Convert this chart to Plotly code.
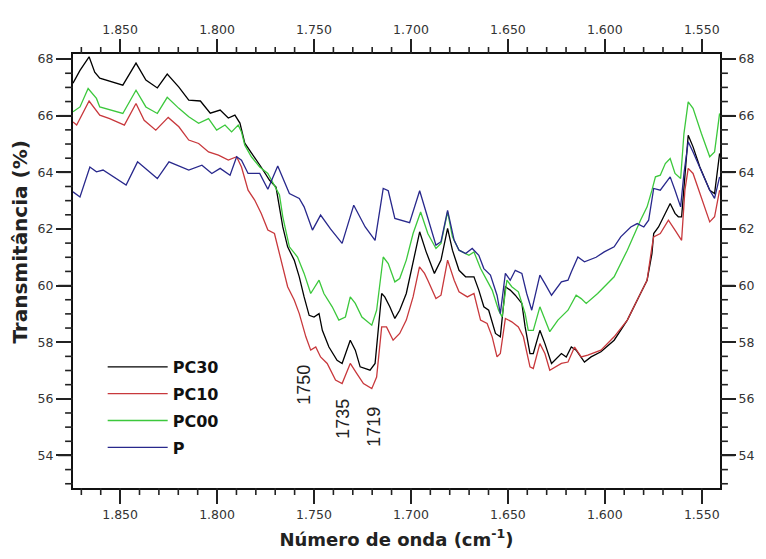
import plotly.graph_objects as go

# ---------------- data ----------------
pc30_x = [1874.3, 1870.7, 1866.0, 1863.1, 1860.5, 1855.4, 1848.6, 1841.8, 1836.7, 1830.8,
          1825.7, 1819.7, 1814.6, 1808.6, 1803.5, 1798.4, 1794.2, 1790.8, 1788.2, 1785.7,
          1780.6, 1777.2, 1772.9, 1769.6, 1766.1, 1763.6, 1760.2, 1757.6, 1755.1, 1752.5,
          1750.0, 1747.4, 1745.7, 1742.3, 1738.1, 1735.5, 1731.3, 1728.7, 1726.2, 1721.1,
          1718.5, 1715.1, 1713.5, 1710.9, 1708.3, 1705.8, 1702.4, 1698.9, 1695.5, 1692.2,
          1687.9, 1684.5, 1681.1, 1678.6, 1675.2, 1671.8, 1667.5, 1665.0, 1662.4, 1659.9,
          1656.4, 1653.9, 1651.3, 1648.8, 1646.2, 1642.8, 1641.1, 1638.6, 1636.9, 1633.5,
          1630.9, 1627.5, 1622.4, 1619.9, 1617.3, 1614.8, 1610.5, 1607.1, 1602.0, 1595.2,
          1588.4, 1581.6, 1578.2, 1575.7, 1574.8, 1572.3, 1568.8, 1566.3, 1563.8, 1562.1,
          1560.4, 1559.2, 1557.0, 1554.5, 1551.0, 1545.9, 1543.4, 1540.8]
pc30_y = [67.15, 67.60, 68.08, 67.54, 67.33, 67.23, 67.08, 67.86, 67.26, 66.98,
          67.47, 67.01, 66.55, 66.52, 66.09, 66.20, 65.92, 66.02, 65.74, 65.03,
          64.54, 64.18, 63.72, 63.48, 62.07, 61.37, 60.90, 60.31, 59.60, 58.95,
          58.89, 59.01, 58.42, 57.83, 57.36, 57.25, 58.07, 57.72, 57.13, 57.01,
          57.25, 59.72, 59.60, 59.25, 58.84, 59.13, 59.72, 60.78, 61.90, 61.20,
          60.43, 60.90, 62.02, 61.25, 60.54, 60.31, 60.31, 59.84, 59.25, 59.13,
          58.31, 58.19, 59.96, 59.84, 59.66, 59.37, 58.54, 57.60, 57.60, 58.42,
          57.95, 57.25, 57.60, 57.48, 57.83, 57.72, 57.30, 57.48, 57.66, 58.07,
          58.78, 59.72, 60.19, 61.13, 61.84, 62.07, 62.55, 62.90, 62.55, 62.43,
          62.43, 63.49, 65.31, 64.90, 64.19, 63.37, 63.25, 64.67]

pc10_x = [1874.3, 1872.4, 1866.0, 1860.5, 1855.4, 1847.8, 1841.8, 1837.6, 1831.6, 1825.2,
          1819.7, 1814.6, 1809.5, 1804.4, 1799.3, 1794.2, 1789.9, 1787.4, 1784.0, 1780.6,
          1777.2, 1773.8, 1770.4, 1767.0, 1763.6, 1760.2, 1757.6, 1754.2, 1751.7, 1749.1,
          1746.6, 1743.2, 1738.9, 1735.5, 1731.3, 1727.9, 1724.5, 1720.2, 1717.7, 1715.1,
          1712.6, 1709.2, 1705.8, 1702.4, 1698.9, 1695.6, 1693.0, 1691.3, 1687.1, 1684.5,
          1681.1, 1677.7, 1675.2, 1670.9, 1667.5, 1664.1, 1660.7, 1658.1, 1655.6, 1653.9,
          1651.3, 1648.0, 1644.6, 1642.0, 1638.6, 1636.9, 1633.5, 1630.9, 1628.4, 1622.4,
          1619.0, 1615.6, 1612.2, 1608.8, 1602.0, 1595.2, 1588.4, 1583.3, 1578.2, 1575.7,
          1574.8, 1571.4, 1567.2, 1563.8, 1560.4, 1558.7, 1557.0, 1554.5, 1550.2, 1545.9,
          1543.4, 1540.8]
pc10_y = [65.78, 65.67, 66.52, 66.02, 65.90, 65.67, 66.43, 65.84, 65.49, 65.94,
          65.61, 65.14, 65.02, 64.72, 64.61, 64.43, 64.55, 64.19, 63.37, 63.02,
          62.55, 61.96, 61.84, 60.90, 59.96, 59.49, 59.01, 58.19, 57.72, 57.83,
          57.48, 57.25, 56.66, 56.54, 57.25, 56.89, 56.54, 56.36, 56.77, 58.54,
          58.54, 58.07, 58.31, 58.78, 59.60, 60.66, 60.43, 60.19, 59.54, 59.66,
          60.90, 60.19, 59.78, 59.60, 59.72, 58.78, 58.66, 58.19, 57.48, 57.60,
          58.84, 58.72, 58.54, 58.19, 57.13, 57.07, 57.95, 57.60, 57.01, 57.25,
          57.30, 57.83, 57.48, 57.54, 57.72, 58.19, 58.78, 59.49, 60.19, 61.37,
          61.72, 61.84, 62.31, 61.96, 61.60, 63.37, 64.14, 63.96, 63.13, 62.25,
          62.43, 63.37]

pc00_x = [1874.3, 1870.7, 1866.5, 1862.2, 1860.5, 1855.4, 1848.6, 1841.8, 1836.7, 1830.8,
          1825.7, 1819.7, 1814.6, 1809.5, 1804.4, 1800.2, 1795.9, 1792.5, 1789.1, 1787.4,
          1785.7, 1782.3, 1778.0, 1773.8, 1770.4, 1767.8, 1766.1, 1762.7, 1758.5, 1755.1,
          1751.7, 1747.4, 1744.9, 1740.6, 1737.2, 1733.8, 1731.3, 1728.7, 1725.3, 1720.2,
          1717.7, 1714.3, 1711.7, 1708.3, 1705.8, 1702.4, 1698.9, 1695.0, 1691.3, 1687.1,
          1684.5, 1681.1, 1678.6, 1675.2, 1670.1, 1667.5, 1664.1, 1660.7, 1658.1, 1654.8,
          1653.0, 1650.5, 1648.0, 1644.6, 1641.1, 1639.5, 1636.9, 1633.5, 1630.9, 1628.4,
          1624.2, 1619.0, 1614.8, 1612.2, 1609.6, 1603.7, 1595.2, 1588.4, 1581.6, 1578.2,
          1575.7, 1573.9, 1571.4, 1568.8, 1566.3, 1563.8, 1560.9, 1559.2, 1557.0, 1554.5,
          1550.2, 1545.9, 1543.4, 1540.8]
pc00_y = [66.14, 66.31, 66.96, 66.61, 66.31, 66.20, 66.08, 66.90, 66.31, 66.08,
          66.65, 66.26, 65.96, 65.73, 65.90, 65.49, 65.67, 65.43, 65.67, 65.43,
          64.96, 64.55, 64.19, 63.96, 63.55, 63.20, 62.43, 61.37, 61.01, 60.43,
          59.72, 60.19, 59.72, 59.25, 58.78, 58.89, 59.60, 59.37, 58.89, 58.60,
          59.13, 61.01, 60.78, 60.13, 60.25, 60.90, 61.84, 62.60, 61.84, 61.31,
          61.49, 62.60, 61.72, 61.25, 61.07, 61.19, 60.60, 60.19, 59.84, 59.13,
          58.89, 60.19, 59.96, 59.78, 59.01, 58.42, 58.42, 59.25, 58.78, 58.37,
          58.78, 59.13, 59.66, 59.54, 59.37, 59.72, 60.31, 61.25, 62.31, 62.78,
          63.37, 63.84, 63.90, 64.31, 64.49, 63.96, 63.78, 65.37, 66.49, 66.26,
          65.37, 64.55, 64.72, 66.08]

p_x = [1874.3, 1870.7, 1865.6, 1862.2, 1858.8, 1853.7, 1846.9, 1841.0, 1835.9, 1830.8,
       1824.8, 1818.8, 1814.6, 1807.8, 1802.7, 1798.4, 1793.3, 1789.9, 1787.4, 1784.0,
       1778.0, 1773.8, 1768.7, 1762.7, 1757.6, 1755.1, 1750.8, 1746.6, 1741.5, 1735.5,
       1729.5, 1723.6, 1718.5, 1714.3, 1711.7, 1708.3, 1700.7, 1695.5, 1691.3, 1687.1,
       1684.5, 1681.1, 1677.7, 1675.2, 1671.8, 1668.4, 1665.0, 1662.4, 1659.0, 1655.6,
       1653.9, 1651.3, 1648.8, 1646.2, 1642.8, 1640.3, 1637.7, 1633.5, 1630.9, 1627.5,
       1622.4, 1619.0, 1617.3, 1613.9, 1610.5, 1604.5, 1600.3, 1595.2, 1591.8, 1586.6,
       1583.3, 1579.9, 1577.4, 1575.7, 1574.8, 1571.4, 1566.3, 1563.8, 1560.9, 1559.2,
       1557.0, 1554.5, 1550.2, 1545.9, 1543.4, 1540.8]
p_y = [63.31, 63.13, 64.19, 64.02, 64.08, 63.84, 63.55, 64.37, 64.08, 63.78,
       64.37, 64.19, 64.08, 64.25, 63.96, 64.14, 63.90, 64.55, 64.43, 63.96,
       63.96, 63.40, 64.22, 63.25, 63.08, 62.78, 61.96, 62.49, 62.00, 61.49,
       62.84, 62.07, 61.60, 63.43, 63.35, 62.37, 62.22, 63.35, 62.40, 61.43,
       61.55, 62.66, 61.60, 61.25, 61.13, 61.31, 61.07, 60.60, 60.37, 59.66,
       59.01, 60.43, 60.19, 60.54, 60.43, 59.72, 59.13, 60.37, 60.07, 59.66,
       60.13, 60.19, 60.48, 61.01, 60.84, 61.00, 61.19, 61.37, 61.72, 62.07,
       62.19, 62.07, 62.31, 63.02, 63.43, 63.37, 63.84, 63.37, 62.78, 63.96,
       65.08, 64.72, 64.02, 63.37, 63.08, 63.84]

series_names = ["PC30", "PC10", "PC00", "P"]
series_colors = ["#000000", "#c8383c", "#3cc83c", "#28288c"]

x_tickvals = [1850, 1800, 1750, 1700, 1650, 1600, 1550]
x_ticktext = ["1.850", "1.800", "1.750", "1.700", "1.650", "1.600", "1.550"]
y_tickvals = [54, 56, 58, 60, 62, 64, 66, 68]
y_ticktext = ["54", "56", "58", "60", "62", "64", "66", "68"]
x_minor_step = 10
y_minor_step = 0.5

peak_labels = ["1750", "1735", "1719"]
peak_label_x = [1754.9, 1735.0, 1719.2]
peak_label_y = [56.48, 55.30, 55.00]

x_range = [1874.3, 1540.6]
y_range = [52.85, 68.18]

# ---------------- figure ----------------
W, H = 766, 559
M = dict(l=73, r=39, t=54, b=71)
plot_w = W - M["l"] - M["r"]
plot_h = H - M["t"] - M["b"]

fig = go.Figure()
all_x = [pc30_x, pc10_x, pc00_x, p_x]
all_y = [pc30_y, pc10_y, pc00_y, p_y]
for i, (xs, ys) in enumerate(zip(all_x, all_y)):
    fig.add_trace(go.Scatter(
        x=xs, y=ys, mode="lines", name=series_names[i],
        legendgroup=series_names[i],
        line=dict(color=series_colors[i], width=1.3),
    ))

tick_font = dict(family="DejaVu Sans", size=12.5, color="#333333")
TICK_C = "#222222"

major_x = dict(range=x_range, tickmode="array", tickvals=x_tickvals, ticktext=x_ticktext,
               ticks="outside", ticklen=14, tickwidth=2, tickcolor=TICK_C,
               showgrid=False, zeroline=False, tickfont=tick_font)
major_y = dict(range=y_range, tickmode="array", tickvals=y_tickvals, ticktext=y_ticktext,
               ticks="outside", ticklen=15, tickwidth=2, tickcolor=TICK_C,
               showgrid=False, zeroline=False, tickfont=tick_font)

fig.update_layout(
    width=W, height=H,
    margin=M,
    paper_bgcolor="white", plot_bgcolor="white",
    xaxis=dict(**major_x, showline=True, linecolor="#111111", linewidth=2, mirror=True,
               title=dict(text="Número de onda (cm<sup>-1</sup>)",
                          font=dict(family="DejaVu Sans", size=18, color="#222222",
                                    weight="bold"),
                          standoff=12)),
    xaxis2=dict(**major_x, overlaying="x", side="top", anchor="y"),
    yaxis=dict(**major_y, showline=True, linecolor="#111111", linewidth=2, mirror=True),
    yaxis2=dict(**major_y, overlaying="y", side="right", anchor="x"),
    showlegend=True,
    legend=dict(x=(103 - 73) / plot_w, y=(488 - 350) / plot_h, xanchor="left", yanchor="top",
                bgcolor="rgba(0,0,0,0)", itemwidth=60, tracegroupgap=3,
                font=dict(family="DejaVu Sans", size=16, color="#111111", weight="bold")),
)

# invisible helper trace so the mirrored axes are drawn
fig.add_trace(go.Scatter(x=[x_range[0]], y=[y_range[0]], xaxis="x2", yaxis="y2",
                         mode="markers", marker=dict(opacity=0), showlegend=False,
                         hoverinfo="skip"))

# tick marks on all four sides, placed at the axis tick values
tick_line = dict(color=TICK_C, width=1.6)
x_lo, x_hi = min(x_range), max(x_range)
y_lo, y_hi = min(y_range), max(y_range)
v = x_tickvals[-1]
while v <= x_hi:
    if v >= x_lo:
        ln = 14 if v in x_tickvals else 7
        d = ln / plot_h
        fig.add_shape(type="line", xref="x", yref="paper", x0=v, x1=v, y0=0, y1=-d,
                      line=tick_line, layer="above")
        fig.add_shape(type="line", xref="x", yref="paper", x0=v, x1=v, y0=1, y1=1 + d,
                      line=tick_line, layer="above")
    v += x_minor_step
k = 0
while y_tickvals[0] - 1 + k * y_minor_step <= y_hi:
    v = y_tickvals[0] - 1 + k * y_minor_step
    k += 1
    if v < y_lo:
        continue
    ln = 15 if v in y_tickvals else 8
    d = ln / plot_w
    fig.add_shape(type="line", xref="paper", yref="y", x0=0, x1=-d, y0=v, y1=v,
                  line=tick_line, layer="above")
    fig.add_shape(type="line", xref="paper", yref="y", x0=1, x1=1 + d, y0=v, y1=v,
                  line=tick_line, layer="above")

for txt, ax, ay in zip(peak_labels, peak_label_x, peak_label_y):
    fig.add_annotation(x=ax, y=ay, xref="x", yref="y", text=txt, showarrow=False,
                       textangle=-90,
                       font=dict(family="Liberation Sans", size=18, color="#222222"))

fig.add_annotation(x=(19 - 73) / plot_w, y=(488 - 242) / plot_h, xref="paper", yref="paper",
                   text="Transmitância (%)", showarrow=False, textangle=-90,
                   xanchor="center", yanchor="middle",
                   font=dict(family="DejaVu Sans", size=20, color="#222222", weight="bold"))

fig.write_html("out.html")
